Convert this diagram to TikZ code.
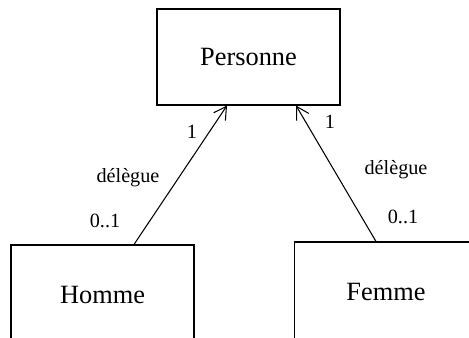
\documentclass[tikz,border=0pt]{standalone}
\usepackage{fontspec}
\setmainfont{Liberation Serif}
\usetikzlibrary{positioning,calc}
\usetikzlibrary{arrows.meta}

\tikzset{
    classe/.style = {draw, minimum width = 3.66cm, minimum height = 2cm, font = \fontsize{15}{18}\selectfont},
    mult/.style = {font = \fontsize{11.5}{14}\selectfont},
}

\begin{document}
\begin{tikzpicture}[>={Straight Barb[length = 7pt, width = 8pt]}, line width = 0.6pt]
    \useasboundingbox (0, 0) rectangle (9.38, -6.76);
    \clip (0, 0) rectangle (9.38, -6.76);

    % classes
    \node (personne) [classe, minimum height = 1.92cm] at (4.97, -1.14) {Personne};
    \node (homme) [classe] at (2.05, -5.90) {Homme};
    \node (femme) [classe] at (7.72, -5.84) {Femme};

    % associations
    \draw [->] ([xshift = 0.63cm]homme.north)  --  ([xshift = -0.43cm]personne.south);
    \draw [->] ([xshift = -0.2cm]femme.north)  --  ([xshift = 0.95cm]personne.south);

    \node (h1) [mult] at (3.84, -2.64) {1};
    \node (hrole) [mult] at (2.56, -3.56) {délègue};
    \node (hmult) [mult] at (2.10, -4.42) {0..1};

    \node (f1) [mult] at (6.60, -2.44) {1};
    \node (frole) [mult] at (7.92, -3.40) {délègue};
    \node (fmult) [mult] at (8.06, -4.34) {0..1};

\end{tikzpicture}
\end{document}
